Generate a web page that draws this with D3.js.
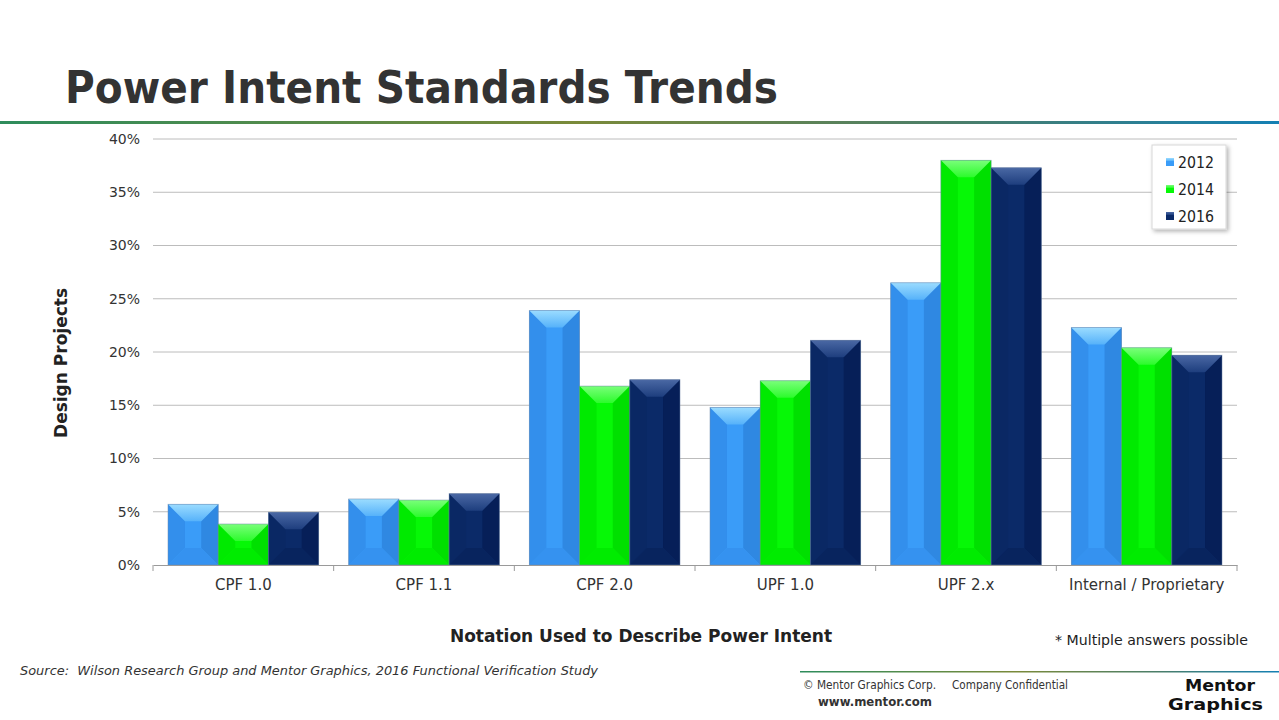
<!DOCTYPE html>
<html>
<head>
<meta charset="utf-8">
<script src="https://cdn.jsdelivr.net/npm/d3@7"></script>
<style>
  body { margin: 0; background: #fff; }
  text { font-family: Tahoma, "DejaVu Sans", sans-serif; }
</style>
</head>
<body>
<div class="chart"></div>
<script>
// Chart data
var categories = ["CPF 1.0", "CPF 1.1", "CPF 2.0", "UPF 1.0", "UPF 2.x", "Internal / Proprietary"];
var years = ["2012", "2014", "2016"];
var values2012 = [5.7, 6.2, 23.9, 14.8, 26.5, 22.3];
var values2014 = [3.85, 6.1, 16.8, 17.3, 38.0, 20.4];
var values2016 = [4.95, 6.7, 17.4, 21.1, 37.3, 19.7];
var yTicks = [0, 5, 10, 15, 20, 25, 30, 35, 40];

var seriesValues = [values2012, values2014, values2016];

// Shades for the bevelled bars
var shades = [
  { base: "#3a9cf8", top1: "#9bdcff", top2: "#56b2fa", left: "#338fec", right: "#2f88e2", bottom: "#3592f0" },
  { base: "#06f806", top1: "#7aff7a", top2: "#2cfb2c", left: "#00ea00", right: "#00e000", bottom: "#00ec00" },
  { base: "#0b2a68", top1: "#4a68a4", top2: "#1e3e7e", left: "#0a2864", right: "#061f58", bottom: "#08245e" }
];

var svgWidth = 1279;
var svgHeight = 720;

var margin = { top: 139, right: 42, bottom: 155, left: 153 };
var width = svgWidth - margin.left - margin.right;
var height = svgHeight - margin.top - margin.bottom;

var svg = d3.select(".chart")
  .append("svg")
  .attr("width", svgWidth)
  .attr("height", svgHeight);

var defs = svg.append("defs");

var lineGrad = defs.append("linearGradient").attr("id", "rule").attr("x1", "0%").attr("x2", "100%");
lineGrad.append("stop").attr("offset", "0%").attr("stop-color", "#2e8c5c");
lineGrad.append("stop").attr("offset", "45%").attr("stop-color", "#7a8a3a");
lineGrad.append("stop").attr("offset", "75%").attr("stop-color", "#4a7e6a");
lineGrad.append("stop").attr("offset", "100%").attr("stop-color", "#1480b4");

shades.forEach(function(s, i) {
  var g = defs.append("linearGradient").attr("id", "top" + i)
    .attr("x1", "0").attr("y1", "0").attr("x2", "0").attr("y2", "1");
  g.append("stop").attr("offset", "0%").attr("stop-color", s.top1);
  g.append("stop").attr("offset", "100%").attr("stop-color", s.top2);
});

var shadow = defs.append("filter").attr("id", "shadow")
  .attr("x", "-20%").attr("y", "-20%").attr("width", "150%").attr("height", "150%");
shadow.append("feDropShadow").attr("dx", 2).attr("dy", 2).attr("stdDeviation", 2)
  .attr("flood-color", "#000").attr("flood-opacity", 0.3);

// Title and rule
svg.append("text")
  .attr("x", 65).attr("y", 103)
  .attr("font-size", 44).attr("font-weight", "bold")
  .attr("fill", "#333333")
  .attr("textLength", 713).attr("lengthAdjust", "spacingAndGlyphs")
  .text("Power Intent Standards Trends");

svg.append("rect")
  .attr("x", 0).attr("y", 121).attr("width", svgWidth).attr("height", 3)
  .attr("fill", "url(#rule)");

var chartGroup = svg.append("g")
  .attr("transform", `translate(${margin.left}, ${margin.top})`);

// Scales
var x0 = d3.scaleBand()
  .domain(categories)
  .range([0, width])
  .paddingInner(0.166)
  .paddingOuter(0.083);

var x1 = d3.scaleBand()
  .domain(years)
  .range([0, x0.bandwidth()]);

var yScale = d3.scaleLinear()
  .domain([0, 40])
  .range([height, 0]);

// Gridlines
chartGroup.append("g")
  .selectAll("line")
  .data(yTicks.slice(1))
  .enter().append("line")
  .attr("x1", 0).attr("x2", width)
  .attr("y1", d => yScale(d)).attr("y2", d => yScale(d))
  .attr("stroke", "#bcbcbc").attr("stroke-width", 1);

// Y axis labels
var leftAxis = d3.axisLeft(yScale).tickValues(yTicks).tickFormat(d => d + "%").tickSize(0).tickPadding(13);
var yAxisG = chartGroup.append("g").call(leftAxis);
yAxisG.select(".domain").remove();
yAxisG.selectAll("text").attr("font-size", 14).attr("fill", "#333")
  .style("font-family", "Tahoma, 'DejaVu Sans', sans-serif");

// Bars
function bevelBar(g, bx, by, w, h, s, i) {
  var d = Math.min(17, h / 2, w / 2);
  g.append("rect").attr("x", bx).attr("y", by).attr("width", w).attr("height", h).attr("fill", s.base);
  // left side
  g.append("path").attr("d", `M${bx},${by} L${bx + d},${by + d} L${bx + d},${by + h - d} L${bx},${by + h} Z`).attr("fill", s.left);
  // right side
  g.append("path").attr("d", `M${bx + w},${by} L${bx + w - d},${by + d} L${bx + w - d},${by + h - d} L${bx + w},${by + h} Z`).attr("fill", s.right);
  // bottom
  g.append("path").attr("d", `M${bx},${by + h} L${bx + d},${by + h - d} L${bx + w - d},${by + h - d} L${bx + w},${by + h} Z`).attr("fill", s.bottom);
  // top
  g.append("path").attr("d", `M${bx},${by} L${bx + w},${by} L${bx + w - d},${by + d} L${bx + d},${by + d} Z`).attr("fill", "url(#top" + i + ")");
  g.append("rect").attr("x", bx).attr("y", by).attr("width", w).attr("height", h)
    .attr("fill", "none").attr("stroke", "#6f87a8").attr("stroke-opacity", 0.6).attr("stroke-width", 0.8);
}

var barsG = chartGroup.append("g");
categories.forEach(function(cat, ci) {
  years.forEach(function(yr, si) {
    var v = seriesValues[si][ci];
    var bx = x0(cat) + x1(yr);
    var by = yScale(v);
    bevelBar(barsG.append("g"), bx, by, x1.bandwidth(), yScale(0) - by, shades[si], si);
  });
});

// X axis
var bottomAxis = d3.axisBottom(x0).tickSize(0).tickPadding(14);
var xAxisG = chartGroup.append("g")
  .attr("transform", `translate(0, ${height})`)
  .call(bottomAxis);
xAxisG.select(".domain").attr("stroke", "#9a9a9a");
xAxisG.selectAll("text").attr("font-size", 15).attr("fill", "#333")
  .style("font-family", "Tahoma, 'DejaVu Sans', sans-serif");

// Category boundary ticks
var step = x0.step();
xAxisG.append("g").selectAll("line")
  .data(d3.range(categories.length + 1))
  .enter().append("line")
  .attr("x1", d => x0(categories[0]) - x0.paddingOuter() * step + d * step)
  .attr("x2", d => x0(categories[0]) - x0.paddingOuter() * step + d * step)
  .attr("y1", 0).attr("y2", 6)
  .attr("stroke", "#9a9a9a");

// Axis titles
svg.append("text")
  .attr("transform", "rotate(-90)")
  .attr("x", -363).attr("y", 67)
  .attr("text-anchor", "middle")
  .attr("font-size", 17).attr("font-weight", "bold").attr("fill", "#222")
  .text("Design Projects");

svg.append("text")
  .attr("x", 641).attr("y", 642)
  .attr("text-anchor", "middle")
  .attr("font-size", 17).attr("font-weight", "bold").attr("fill", "#222")
  .text("Notation Used to Describe Power Intent");

svg.append("text")
  .attr("x", 1248).attr("y", 645)
  .attr("text-anchor", "end")
  .attr("font-size", 14.5).attr("fill", "#222")
  .attr("textLength", 193).attr("lengthAdjust", "spacingAndGlyphs")
  .text("* Multiple answers possible");

// Legend
var legend = svg.append("g").attr("transform", "translate(1152, 145)");
legend.append("rect")
  .attr("width", 74).attr("height", 84)
  .attr("fill", "#fff").attr("stroke", "#d8d8d8")
  .attr("filter", "url(#shadow)");
years.forEach(function(yr, i) {
  var row = legend.append("g").attr("transform", `translate(14, ${17 + i * 27})`);
  row.append("rect").attr("x", 0).attr("y", -4).attr("width", 8).attr("height", 8).attr("fill", shades[i].base);
  row.append("rect").attr("x", 0).attr("y", -4).attr("width", 8).attr("height", 3).attr("fill", "url(#top" + i + ")");
  row.append("text").attr("x", 12).attr("y", 6)
    .attr("font-size", 15.5).attr("fill", "#222")
    .attr("textLength", 36).attr("lengthAdjust", "spacingAndGlyphs")
    .text(yr);
});

// Source note
svg.append("text")
  .attr("x", 20).attr("y", 675)
  .attr("font-size", 13).attr("font-style", "italic").attr("fill", "#333")
  .attr("xml:space", "preserve")
  .attr("textLength", 578).attr("lengthAdjust", "spacingAndGlyphs")
  .text("Source:  Wilson Research Group and Mentor Graphics, 2016 Functional Verification Study");

// Footer
svg.append("rect")
  .attr("x", 800).attr("y", 671).attr("width", 479).attr("height", 1.5)
  .attr("fill", "url(#rule)");

svg.append("text")
  .attr("x", 803).attr("y", 689)
  .attr("font-size", 12).attr("fill", "#333")
  .attr("textLength", 133).attr("lengthAdjust", "spacingAndGlyphs")
  .text("\u00a9 Mentor Graphics Corp.");

svg.append("text")
  .attr("x", 952).attr("y", 689)
  .attr("font-size", 12).attr("fill", "#333")
  .attr("textLength", 116).attr("lengthAdjust", "spacingAndGlyphs")
  .text("Company Confidential");

svg.append("text")
  .attr("x", 818).attr("y", 706)
  .attr("font-size", 12).attr("font-weight", "bold").attr("fill", "#333")
  .attr("textLength", 114).attr("lengthAdjust", "spacingAndGlyphs")
  .text("www.mentor.com");

// Logo wordmark
svg.append("text")
  .attr("x", 1185).attr("y", 691)
  .attr("font-size", 16).attr("font-weight", "bold").attr("fill", "#111")
  .attr("textLength", 70).attr("lengthAdjust", "spacingAndGlyphs")
  .text("Mentor");
svg.append("text")
  .attr("x", 1168).attr("y", 710)
  .attr("font-size", 16).attr("font-weight", "bold").attr("fill", "#111")
  .attr("textLength", 95).attr("lengthAdjust", "spacingAndGlyphs")
  .text("Graphics");
</script>
</body>
</html>
